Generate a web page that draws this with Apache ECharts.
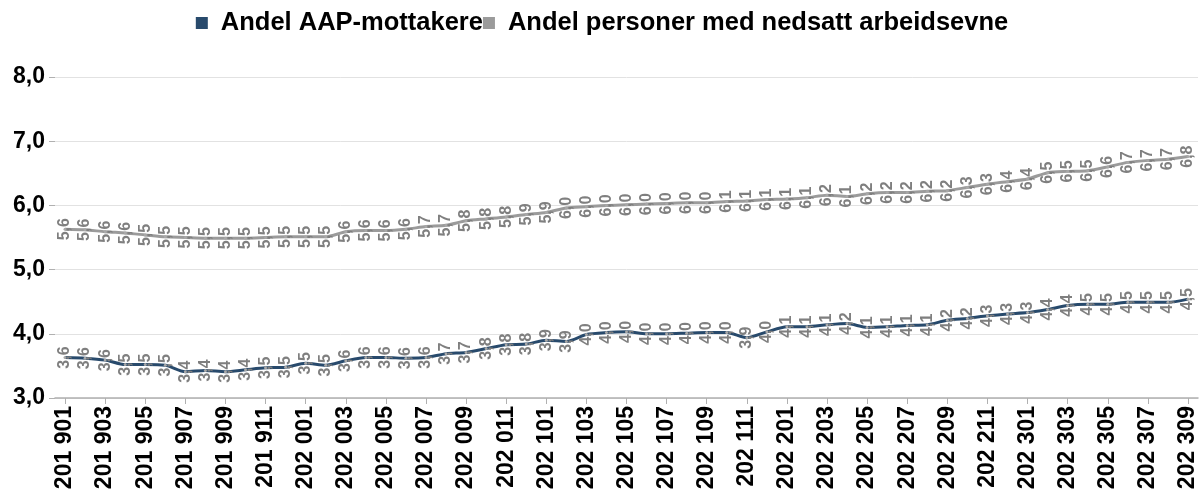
<!DOCTYPE html>
<html>
<head>
<meta charset="utf-8">
<script src="https://cdn.jsdelivr.net/npm/echarts@6/dist/echarts.min.js"></script>
<style>
html,body{margin:0;padding:0;background:#fff;}
#chart{width:1204px;height:495px;}
</style>
</head>
<body>
<div id="chart"></div>
<script>
const categories = [
  '201901','201902','201903','201904','201905','201906','201907','201908','201909','201910','201911','201912',
  '202001','202002','202003','202004','202005','202006','202007','202008','202009','202010','202011','202012',
  '202101','202102','202103','202104','202105','202106','202107','202108','202109','202110','202111','202112',
  '202201','202202','202203','202204','202205','202206','202207','202208','202209','202210','202211','202212',
  '202301','202302','202303','202304','202305','202306','202307','202308','202309'
];
const seriesNames = ['Andel AAP-mottakere', 'Andel personer med nedsatt arbeidsevne'];
const aapValues = [
  3.63,3.62,3.59,3.52,3.52,3.51,3.41,3.43,3.41,3.44,3.47,3.48,
  3.54,3.51,3.58,3.63,3.63,3.62,3.63,3.69,3.71,3.77,3.83,3.84,
  3.90,3.88,3.99,4.02,4.03,4.00,4.00,4.01,4.02,4.02,3.94,4.03,
  4.11,4.11,4.14,4.16,4.10,4.11,4.13,4.14,4.21,4.24,4.28,4.31,
  4.33,4.38,4.44,4.46,4.46,4.49,4.49,4.49,4.54
];
const nedsattValues = [
  5.63,5.62,5.59,5.57,5.54,5.51,5.50,5.49,5.49,5.49,5.50,5.51,
  5.51,5.51,5.59,5.61,5.61,5.63,5.67,5.69,5.76,5.79,5.82,5.86,
  5.89,5.96,5.98,6.00,6.01,6.02,6.03,6.04,6.04,6.06,6.07,6.09,
  6.10,6.12,6.16,6.14,6.18,6.20,6.20,6.22,6.23,6.28,6.33,6.37,
  6.41,6.51,6.53,6.54,6.60,6.67,6.70,6.72,6.76
];
const yTicks = { min: 3, max: 8, interval: 1 };

const colors = ['#284a6c', '#9b9b9b'];
const fmt = v => v.toFixed(1).replace('.', ',');

const labelCfg = {
  show: true,
  position: 'inside',
  rotate: 90,
  color: '#7f7f7f',
  fontFamily: 'Liberation Sans, Arial, sans-serif',
  fontWeight: 'bold',
  fontSize: 16,
  formatter: p => fmt(p.value)
};

function mkSeries(name, data, color) {
  return {
    name: name,
    type: 'line',
    data: data,
    smooth: 0.25,
    symbol: 'circle',
    symbolSize: 3,
    showSymbol: true,
    itemStyle: { color: '#a8a8a8', borderWidth: 0 },
    lineStyle: { color: color, width: 3 },
    label: labelCfg,
    emphasis: { disabled: true },
    z: 2
  };
}

const chart = echarts.init(document.getElementById('chart'), null, { renderer: 'canvas' });
chart.setOption({
  animation: false,
  backgroundColor: '#ffffff',
  legend: {
    top: 5,
    left: 'center',
    itemWidth: 12,
    itemHeight: 12,
    itemGap: 0,
    icon: 'rect',
    textStyle: { fontFamily: 'Liberation Sans, Arial, sans-serif', fontWeight: 'bold', fontSize: 25.5, color: '#000', padding: [0, 0, 0, 8] },
    data: [
      { name: seriesNames[0], itemStyle: { color: colors[0] } },
      { name: seriesNames[1], itemStyle: { color: colors[1] } }
    ]
  },
  grid: { left: 55, right: 6, top: 77, bottom: 97, containLabel: false },
  xAxis: {
    type: 'category',
    data: categories,
    boundaryGap: true,
    axisLine: { show: true, lineStyle: { color: '#b0b0b0', width: 1.5 } },
    axisTick: { show: true, interval: 1, alignWithLabel: true, length: 6, lineStyle: { color: '#b0b0b0' } },
    axisLabel: {
      interval: 1,
      rotate: 90,
      margin: 8,
      color: '#000',
      fontFamily: 'Liberation Sans, Arial, sans-serif',
      fontWeight: 'bold',
      fontSize: 23,
      formatter: s => s.slice(0, 3) + ' ' + s.slice(3)
    }
  },
  yAxis: {
    type: 'value',
    min: yTicks.min,
    max: yTicks.max,
    interval: yTicks.interval,
    axisLine: { show: false },
    axisTick: { show: true, length: 6, lineStyle: { color: '#b0b0b0' } },
    splitLine: { lineStyle: { color: '#e2e2e2', width: 1 } },
    axisLabel: {
      margin: 10,
      color: '#000',
      fontFamily: 'Liberation Sans, Arial, sans-serif',
      fontWeight: 'bold',
      fontSize: 23,
      formatter: v => fmt(v)
    }
  },
  series: [
    mkSeries(seriesNames[0], aapValues, colors[0]),
    mkSeries(seriesNames[1], nedsattValues, colors[1])
  ]
});
</script>
</body>
</html>
